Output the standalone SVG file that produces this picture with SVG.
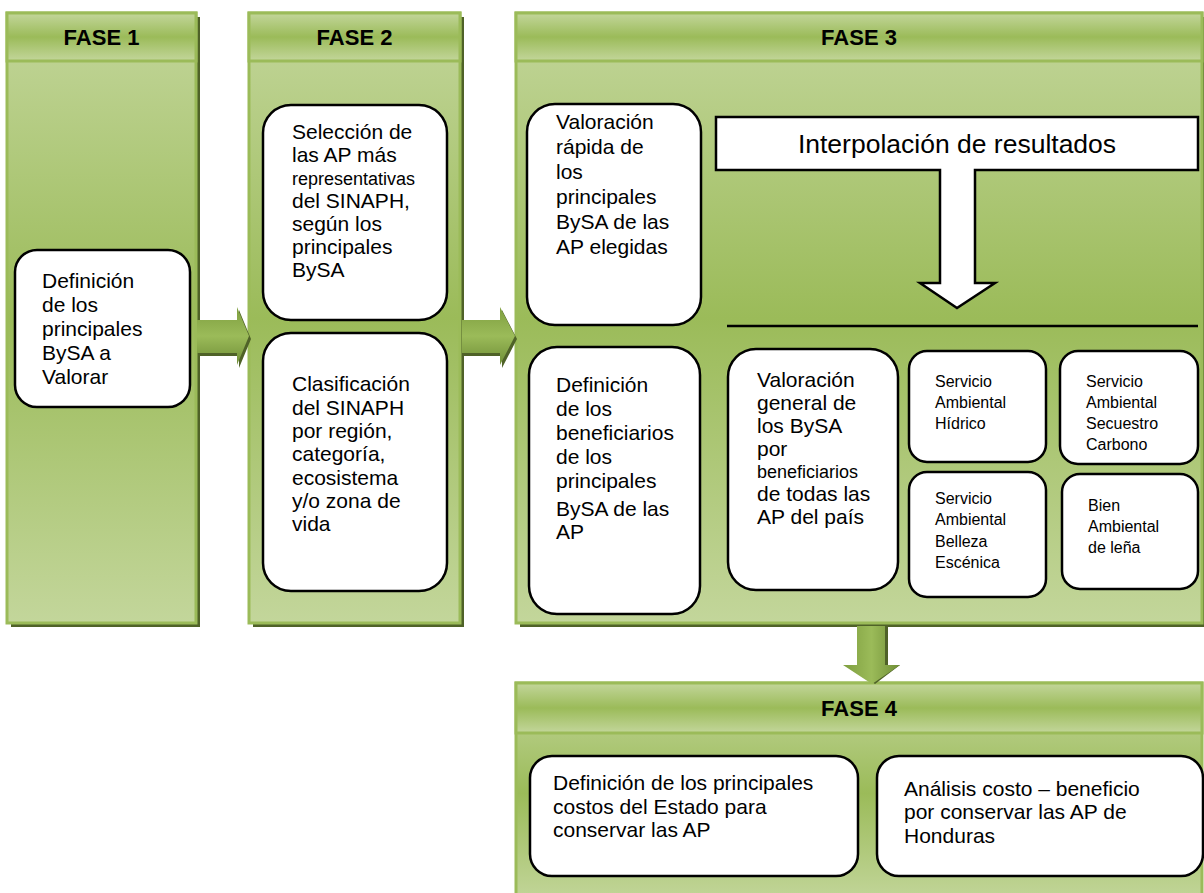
<svg xmlns="http://www.w3.org/2000/svg" width="1204" height="893" viewBox="0 0 1204 893">
<defs>
<linearGradient id="body" x1="0" y1="0" x2="0" y2="1">
<stop offset="0" stop-color="#C3D69B"/>
<stop offset="0.5" stop-color="#9BBB59"/>
<stop offset="1" stop-color="#C3D69B"/>
</linearGradient>
<linearGradient id="hdr" x1="0" y1="0" x2="0" y2="1">
<stop offset="0" stop-color="#C3D69B"/>
<stop offset="0.5" stop-color="#9BBB59"/>
<stop offset="1" stop-color="#C3D69B"/>
</linearGradient>
<linearGradient id="arrH" x1="0" y1="0" x2="0" y2="1">
<stop offset="0" stop-color="#7E9E3F"/>
<stop offset="0.5" stop-color="#9BBB59"/>
<stop offset="1" stop-color="#6F8E36"/>
</linearGradient>
<linearGradient id="arrV" x1="0" y1="0" x2="1" y2="0">
<stop offset="0" stop-color="#7E9E3F"/>
<stop offset="0.5" stop-color="#9BBB59"/>
<stop offset="1" stop-color="#6F8E36"/>
</linearGradient>
</defs>
<style>
.shadow{fill:#4F6228}
.frame{fill:url(#body);stroke:#9BBB59;stroke-width:3}
.hdr{fill:url(#hdr);stroke:#9BBB59;stroke-width:3}
.box{fill:#FFFFFF;stroke:#000000;stroke-width:2.5}
.t{font-family:"Liberation Sans",Arial,sans-serif;font-size:21px;fill:#000000}
.s{font-size:18px}
.sv{font-size:16px}
.h{font-weight:bold;font-size:22px;text-anchor:middle}
.big{font-size:26.5px;text-anchor:middle}
.arrH{fill:url(#arrH)}
.arrV{fill:url(#arrV)}
</style>
<rect width="1204" height="893" fill="#FFFFFF"/>

<g id="fase1">
<rect class="shadow" x="11" y="17" width="189" height="610"/>
<rect class="frame" x="7" y="13" width="189" height="610"/>
<rect class="hdr" x="7" y="13" width="189" height="48"/>
<text class="t h" x="101.5" y="45">FASE 1</text>
</g>

<g id="fase2">
<rect class="shadow" x="253" y="17" width="211" height="610"/>
<rect class="frame" x="249" y="13" width="211" height="610"/>
<rect class="hdr" x="249" y="13" width="211" height="48"/>
<text class="t h" x="354.5" y="45">FASE 2</text>
</g>

<g id="fase3">
<rect class="shadow" x="520" y="17" width="690" height="610"/>
<rect class="frame" x="516" y="13" width="686" height="610"/>
<rect class="hdr" x="516" y="13" width="686" height="48"/>
<text class="t h" x="859" y="45">FASE 3</text>
</g>

<g id="fase4">
<rect class="frame" x="516" y="683" width="686" height="220"/>
<rect class="hdr" x="516" y="683" width="686" height="50"/>
<text class="t h" x="859" y="716">FASE 4</text>
</g>

<g id="connectors">
<polygon class="shadow" points="199,323 239,323 239,310 251,339 239,368 239,356 199,356"/>
<polygon class="arrH" points="197,320 237,320 237,307 249,336 237,365 237,353 197,353"/>
<polygon class="shadow" points="464,323 502,323 502,310 517,339 502,368 502,356 464,356"/>
<polygon class="arrH" points="462,320 500,320 500,307 515,336 500,365 500,353 462,353"/>
<polygon class="shadow" points="860,626 888,626 888,665 900,665 875,684 850,665 860,665"/>
<polygon class="arrV" points="857,626 885,626 885,665 900,665 872,684 843,665 857,665"/>
</g>

<g id="n-definicion-bysa">
<rect class="box" x="15" y="250" width="175" height="157" rx="22"/>
<text class="t" x="42" y="288">Definición</text>
<text class="t" x="42" y="312">de los</text>
<text class="t" x="42" y="336">principales</text>
<text class="t" x="42" y="360">BySA a</text>
<text class="t" x="42" y="384">Valorar</text>
</g>

<g id="n-seleccion">
<rect class="box" x="263" y="105" width="184" height="215" rx="28"/>
<text class="t" x="292" y="139">Selección de</text>
<text class="t" x="292" y="162">las AP más</text>
<text class="t s" x="292" y="185">representativas</text>
<text class="t" x="292" y="208">del SINAPH,</text>
<text class="t" x="292" y="231">según los</text>
<text class="t" x="292" y="254">principales</text>
<text class="t" x="292" y="277">BySA</text>
</g>

<g id="n-clasificacion">
<rect class="box" x="263" y="333" width="184" height="258" rx="28"/>
<text class="t" x="292" y="391">Clasificación</text>
<text class="t" x="292" y="415">del SINAPH</text>
<text class="t" x="292" y="438">por región,</text>
<text class="t" x="292" y="461">categoría,</text>
<text class="t" x="292" y="485">ecosistema</text>
<text class="t" x="292" y="508">y/o zona de</text>
<text class="t" x="292" y="531">vida</text>
</g>

<g id="n-valoracion-rapida">
<rect class="box" x="527" y="104" width="174" height="221" rx="28"/>
<text class="t" x="556" y="129">Valoración</text>
<text class="t" x="556" y="154">rápida de</text>
<text class="t" x="556" y="179">los</text>
<text class="t" x="556" y="204">principales</text>
<text class="t" x="556" y="229">BySA de las</text>
<text class="t" x="556" y="254">AP elegidas</text>
</g>

<g id="n-interpolacion">
<polygon fill="#FFFFFF" stroke="#000000" stroke-width="2.5" points="716,117 1198,117 1198,170 975,170 975,283 995,283 957,308 920,283 940,283 940,170 716,170"/>
<text class="t big" x="957" y="153">Interpolación de resultados</text>
<line x1="727" y1="326" x2="1198" y2="326" stroke="#000000" stroke-width="2.5"/>
</g>

<g id="n-beneficiarios">
<rect class="box" x="529" y="347" width="171" height="267" rx="28"/>
<text class="t" x="556" y="392">Definición</text>
<text class="t" x="556" y="416">de los</text>
<text class="t" x="556" y="440">beneficiarios</text>
<text class="t" x="556" y="464">de los</text>
<text class="t" x="556" y="488">principales</text>
<text class="t" x="556" y="516">BySA  de las</text>
<text class="t" x="556" y="539">AP</text>
</g>

<g id="n-valoracion-general">
<rect class="box" x="728" y="349" width="170" height="241" rx="28"/>
<text class="t" x="757" y="387">Valoración</text>
<text class="t" x="757" y="410">general  de</text>
<text class="t" x="757" y="433">los BySA</text>
<text class="t" x="757" y="456">por</text>
<text class="t s" x="757" y="478">beneficiarios</text>
<text class="t" x="757" y="501">de todas las</text>
<text class="t" x="757" y="524">AP del país</text>
</g>

<g id="n-hidrico">
<rect class="box" x="909" y="351" width="137" height="111" rx="18"/>
<text class="t sv" x="935" y="387">Servicio</text>
<text class="t sv" x="935" y="408">Ambiental</text>
<text class="t sv" x="935" y="429">Hídrico</text>
</g>

<g id="n-carbono">
<rect class="box" x="1060" y="351" width="138" height="113" rx="18"/>
<text class="t sv" x="1086" y="387">Servicio</text>
<text class="t sv" x="1086" y="408">Ambiental</text>
<text class="t sv" x="1086" y="429">Secuestro</text>
<text class="t sv" x="1086" y="450">Carbono</text>
</g>

<g id="n-belleza">
<rect class="box" x="909" y="472" width="137" height="125" rx="18"/>
<text class="t sv" x="935" y="504">Servicio</text>
<text class="t sv" x="935" y="525">Ambiental</text>
<text class="t sv" x="935" y="547">Belleza</text>
<text class="t sv" x="935" y="568">Escénica</text>
</g>

<g id="n-lena">
<rect class="box" x="1062" y="474" width="136" height="115" rx="18"/>
<text class="t sv" x="1088" y="511">Bien</text>
<text class="t sv" x="1088" y="532">Ambiental</text>
<text class="t sv" x="1088" y="553">de leña</text>
</g>

<g id="n-costos">
<rect class="box" x="530" y="756" width="328" height="120" rx="22"/>
<text class="t" x="553" y="790">Definición de los principales</text>
<text class="t" x="553" y="814">costos del Estado para</text>
<text class="t" x="553" y="837">conservar las AP</text>
</g>

<g id="n-costo-beneficio">
<rect class="box" x="877" y="756" width="326" height="120" rx="22"/>
<text class="t" x="904" y="796">Análisis costo – beneficio</text>
<text class="t" x="904" y="819">por conservar las AP de</text>
<text class="t" x="904" y="843">Honduras</text>
</g>
</svg>
